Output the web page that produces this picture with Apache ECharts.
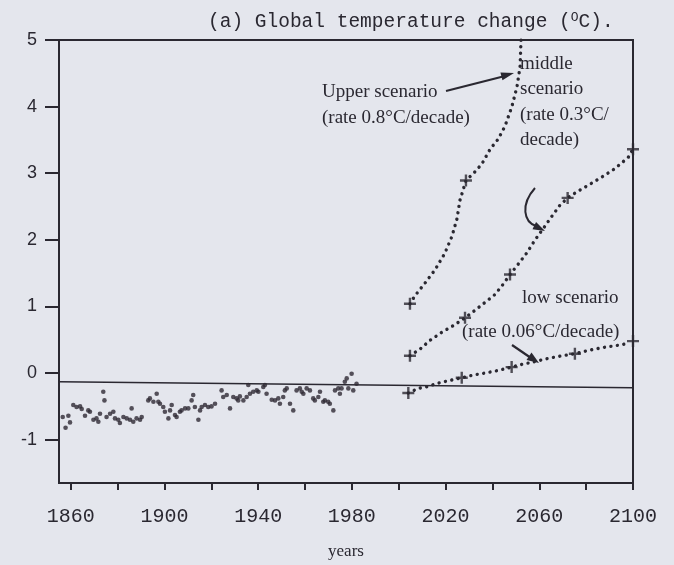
<!DOCTYPE html>
<html>
<head>
<meta charset="utf-8">
<script src="https://cdn.jsdelivr.net/npm/echarts@6/dist/echarts.min.js"></script>
<style>
html, body { margin: 0; padding: 0; background: #e4e6ed; }
#chart { width: 674px; height: 565px; }
</style>
</head>
<body>
<div id="chart"></div>
<script>
// observed record
var obsYears = [1856.6, 1857.8, 1859.0, 1859.7, 1861.1, 1862.5, 1864.0, 1864.7, 1866.1, 1867.5, 1868.2, 1869.7,
  1871.0, 1871.8, 1872.5, 1873.9, 1874.4, 1875.3, 1876.8, 1878.2, 1878.9, 1880.3, 1881.0, 1882.5, 1883.9,
  1885.3, 1886.0, 1886.7, 1888.1, 1889.6, 1890.3, 1893.1, 1893.8, 1895.3, 1896.7, 1897.4, 1898.1, 1899.5,
  1900.2, 1901.7, 1902.4, 1903.1, 1904.5, 1905.2, 1906.6, 1907.3, 1908.8, 1910.2, 1911.6, 1912.3, 1913.0,
  1914.5, 1915.2, 1915.9, 1917.3, 1918.7, 1920.1, 1921.6, 1924.4, 1925.1, 1926.6, 1928.0, 1929.4, 1930.8,
  1931.5, 1932.2, 1933.7, 1935.1, 1935.8, 1936.5, 1937.9, 1939.4, 1940.1, 1942.2, 1942.9, 1943.6, 1945.8,
  1947.2, 1948.6, 1949.3, 1950.7, 1951.4, 1952.2, 1953.6, 1955.0, 1956.4, 1957.8, 1958.6, 1959.3, 1960.7,
  1962.1, 1963.5, 1964.2, 1965.7, 1966.4, 1967.8, 1968.5, 1969.9, 1970.6, 1972.1, 1972.8, 1974.2, 1974.9,
  1975.6, 1977.0, 1977.8, 1978.5, 1979.9, 1980.6, 1982.0];
var obsTemps = [-0.66, -0.82, -0.64, -0.74, -0.48, -0.51, -0.50, -0.54, -0.64, -0.56, -0.58, -0.70,
  -0.68, -0.73, -0.61, -0.28, -0.41, -0.66, -0.61, -0.58, -0.68, -0.70, -0.75, -0.66, -0.68,
  -0.70, -0.53, -0.73, -0.68, -0.70, -0.66, -0.41, -0.38, -0.43, -0.31, -0.43, -0.46, -0.51,
  -0.58, -0.68, -0.56, -0.48, -0.63, -0.66, -0.58, -0.56, -0.53, -0.53, -0.41, -0.33, -0.51,
  -0.70, -0.56, -0.51, -0.48, -0.51, -0.50, -0.46, -0.26, -0.36, -0.33, -0.53, -0.36, -0.38,
  -0.41, -0.35, -0.41, -0.36, -0.18, -0.31, -0.28, -0.26, -0.28, -0.21, -0.18, -0.31, -0.40,
  -0.41, -0.38, -0.46, -0.36, -0.26, -0.23, -0.46, -0.56, -0.26, -0.23, -0.28, -0.31, -0.23,
  -0.26, -0.38, -0.41, -0.36, -0.28, -0.43, -0.41, -0.43, -0.46, -0.56, -0.26, -0.23, -0.31,
  -0.23, -0.13, -0.08, -0.23, -0.01, -0.26, -0.16];

// hand-drawn reference line
var baseYears = [1855, 2100];
var baseTemps = [-0.13, -0.22];

// scenarios
var upperYears = [2004.8, 2006.9, 2011.2, 2015.5, 2019.7, 2022.7, 2024.9, 2026.1, 2028.7, 2032.5, 2035.5,
  2039.0, 2042.4, 2045.4, 2048.3, 2050.5, 2051.8, 2052.2];
var upperTemps = [1.04, 1.16, 1.35, 1.55, 1.80, 2.05, 2.32, 2.59, 2.89, 3.02, 3.14,
  3.36, 3.51, 3.71, 4.00, 4.30, 4.60, 5.00];
var middleYears = [2004.8, 2009.1, 2013.3, 2018.3, 2023.2, 2028.3, 2032.5, 2036.8, 2041.1, 2044.5, 2047.5,
  2050.9, 2054.6, 2058.2, 2061.7, 2065.3, 2068.8, 2072.1, 2076.0, 2080.9, 2086.6, 2092.3, 2098.0, 2100.0];
var middleTemps = [0.26, 0.36, 0.49, 0.61, 0.71, 0.83, 0.94, 1.06, 1.18, 1.33, 1.48,
  1.63, 1.80, 2.00, 2.17, 2.35, 2.52, 2.63, 2.72, 2.82, 2.94, 3.07, 3.24, 3.36];
var lowYears = [2004.1, 2008.4, 2012.6, 2016.9, 2021.9, 2026.9, 2031.8, 2036.8, 2042.5, 2048.2,
  2052.5, 2056.7, 2062.4, 2068.1, 2075.2, 2080.9, 2086.6, 2092.3, 2097.3];
var lowTemps = [-0.30, -0.23, -0.20, -0.15, -0.11, -0.07, -0.03, 0.00, 0.04, 0.09,
  0.13, 0.16, 0.21, 0.25, 0.29, 0.34, 0.38, 0.41, 0.44];

// "+" marks along the scenario curves
var crossYears = [2004.8, 2028.7, 2004.8, 2028.3, 2047.5, 2072.1, 2100, 2004.1, 2026.9, 2048.2, 2075.2, 2100];
var crossTemps = [1.04, 2.89, 0.26, 0.83, 1.48, 2.63, 3.36, -0.30, -0.07, 0.09, 0.29, 0.48];

var yearTicks = [1860, 1880, 1900, 1920, 1940, 1960, 1980, 2000, 2020, 2040, 2060, 2080, 2100];
var yearLabels = [1860, 1900, 1940, 1980, 2020, 2060, 2100];
var tempTicks = [-1, 0, 1, 2, 3, 4, 5];

var ink = '#2a2831';
var serif = '"Liberation Serif", "DejaVu Serif", serif';
var mono = '"Liberation Mono", "DejaVu Sans Mono", monospace';

function pairs(xs, ys) {
  return xs.map(function (x, i) { return [x, ys[i]]; });
}

function dotted(name, xs, ys) {
  return {
    name: name,
    type: 'line',
    data: pairs(xs, ys),
    showSymbol: false,
    clip: false,
    lineStyle: { color: ink, width: 3.4, type: [0.01, 6.5], cap: 'round' },
    z: 3
  };
}

function arrowHead(tip, from, len, wid) {
  var dx = tip[0] - from[0], dy = tip[1] - from[1];
  var d = Math.sqrt(dx * dx + dy * dy);
  dx /= d; dy /= d;
  var bx = tip[0] - dx * len, by = tip[1] - dy * len;
  return {
    type: 'polygon',
    shape: { points: [tip, [bx - dy * wid / 2, by + dx * wid / 2], [bx + dy * wid / 2, by - dx * wid / 2]] },
    style: { fill: ink }
  };
}

function note(x, y, text, size) {
  return {
    type: 'text', x: x, y: y,
    style: { text: text, font: (size || 19) + 'px ' + serif, fill: ink, lineHeight: 25.5, verticalAlign: 'middle' }
  };
}

var chart = echarts.init(document.getElementById('chart'));

var option = {
  backgroundColor: '#e4e6ed',
  animation: false,
  title: {
    text: '(a) Global temperature change ({s|O}C).',
    left: 203,
    top: 6,
    textStyle: {
      fontFamily: mono, fontSize: 19.5, fontWeight: 'normal', color: ink,
      rich: { s: { fontFamily: mono, fontSize: 13, color: ink, padding: [0, 0, 9, 0] } }
    }
  },
  grid: { left: 59, right: 41, top: 40, bottom: 78, show: true, borderColor: ink, borderWidth: 2 },
  xAxis: {
    type: 'value', min: 1855, max: 2100,
    name: 'years', nameLocation: 'middle', nameGap: 60,
    nameTextStyle: { fontFamily: serif, fontSize: 17, color: ink },
    axisLine: { onZero: false, lineStyle: { color: ink, width: 2 } },
    axisTick: { customValues: yearTicks, length: 7, lineStyle: { color: ink, width: 2 } },
    axisLabel: {
      customValues: yearLabels, margin: 24, fontFamily: mono, fontSize: 20, color: ink,
      formatter: function (v) { return String(v); }
    },
    splitLine: { show: false }
  },
  yAxis: {
    type: 'value', min: -1.65, max: 5,
    axisLine: { show: true, onZero: false, lineStyle: { color: ink, width: 2 } },
    axisTick: { show: true, customValues: tempTicks, length: 14, lineStyle: { color: ink, width: 2 } },
    axisLabel: {
      customValues: tempTicks, margin: 22, fontFamily: '"Liberation Sans", Arial, sans-serif', fontSize: 18, color: ink,
      formatter: function (v) { return String(v); }
    },
    splitLine: { show: false }
  },
  series: [
    {
      name: 'baseline', type: 'line', data: pairs(baseYears, baseTemps),
      showSymbol: false, lineStyle: { color: ink, width: 1.6 }, z: 2
    },
    {
      name: 'observed', type: 'scatter', data: pairs(obsYears, obsTemps),
      symbolSize: 4.6, itemStyle: { color: '#2e2933' }, z: 3
    },
    dotted('upper', upperYears, upperTemps),
    dotted('middle', middleYears, middleTemps),
    dotted('low', lowYears, lowTemps),
    {
      name: 'marks', type: 'scatter', data: pairs(crossYears, crossTemps),
      symbol: 'path://M4,0H6V4H10V6H6V10H4V6H0V4H4Z', symbolSize: 12,
      itemStyle: { color: ink }, clip: false, z: 4
    }
  ],
  graphic: [
    note(322, 92, 'Upper scenario'),
    note(322, 118, '(rate 0.8°C/decade)'),
    { type: 'line', shape: { x1: 446, y1: 91, x2: 505, y2: 76 }, style: { stroke: ink, lineWidth: 2.2 } },
    arrowHead([514, 73], [446, 91], 13, 8),
    note(520, 102, 'middle\nscenario\n(rate 0.3°C/\ndecade)'),
    { type: 'bezierCurve', shape: { x1: 535, y1: 188, cpx1: 520, cpy1: 205, cpx2: 524, cpy2: 222, x2: 536, y2: 226 },
      style: { stroke: ink, lineWidth: 2, fill: null } },
    arrowHead([545, 231], [533, 225], 12, 8),
    note(522, 298, 'low scenario'),
    note(462, 332, '(rate 0.06°C/decade)'),
    { type: 'line', shape: { x1: 512, y1: 345, x2: 531, y2: 358 }, style: { stroke: ink, lineWidth: 2.2 } },
    arrowHead([539, 363], [512, 345], 12, 9)
  ]
};

chart.setOption(option);
</script>
</body>
</html>
